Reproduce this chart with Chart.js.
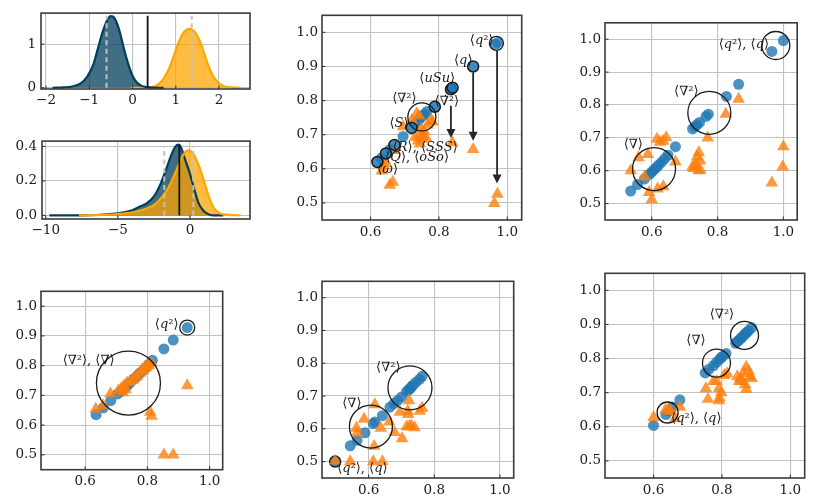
<!DOCTYPE html>
<html>
<head>
<meta charset="utf-8">
<script src="https://cdn.jsdelivr.net/npm/chart.js@4.4.1/dist/chart.umd.min.js"></script>
<style>
  html, body { margin: 0; padding: 0; background: #fff; }
  #fig { position: relative; width: 822px; height: 503px; overflow: hidden; background: #fff; }
  #fig canvas { position: absolute; }
</style>
</head>
<body>
<div id="fig"></div>
<script>
// ---- density panels (left column) ----
var d1BlueX = [-1.85, -1.6, -1.4, -1.2, -1.05, -0.9, -0.8, -0.7, -0.6, -0.5, -0.42, -0.3, -0.2, -0.1, 0.0, 0.1, 0.2, 0.3, 0.45, 0.72];
var d1BlueY = [0.0, 0.01, 0.03, 0.10, 0.25, 0.55, 0.90, 1.25, 1.52, 1.64, 1.60, 1.30, 0.90, 0.55, 0.28, 0.12, 0.05, 0.02, 0.005, 0.0];
var d1OrangeX = [-0.05, 0.2, 0.4, 0.55, 0.7, 0.85, 0.95, 1.05, 1.15, 1.25, 1.33, 1.42, 1.52, 1.62, 1.72, 1.82, 1.95, 2.1, 2.3, 2.5];
var d1OrangeY = [0.0, 0.0, 0.01, 0.05, 0.18, 0.45, 0.72, 1.0, 1.22, 1.33, 1.35, 1.30, 1.15, 0.90, 0.60, 0.35, 0.15, 0.04, 0.01, 0.0];
var d1Dashed = [-0.6, 1.37];
var d1Solid = 0.35;
var d1LineTop = 1.65;

var d2BlueX = [-9.75, -7.7, -6, -5, -4, -3.5, -3, -2.5, -2, -1.6, -1.3, -1.0, -0.8, -0.6, -0.4, -0.2, 0.0, 0.3, 0.6, 0.9, 1.2, 1.6, 2.3];
var d2BlueY = [0.0, 0.0, 0.005, 0.012, 0.03, 0.05, 0.07, 0.11, 0.19, 0.28, 0.35, 0.40, 0.41, 0.39, 0.34, 0.29, 0.24, 0.15, 0.07, 0.03, 0.01, 0.0, 0.0];
var d2OrangeX = [-7.7, -6, -5, -4, -3, -2.5, -2, -1.5, -1.0, -0.6, -0.3, -0.1, 0.1, 0.4, 0.7, 1.0, 1.3, 1.6, 2.0, 2.5, 3.5];
var d2OrangeY = [0.0, 0.003, 0.008, 0.018, 0.04, 0.06, 0.10, 0.16, 0.25, 0.33, 0.37, 0.378, 0.37, 0.33, 0.27, 0.19, 0.11, 0.05, 0.015, 0.004, 0.0];
var d2Dashed = [-1.78, 0.23];
var d2Solid = -0.74;
var d2DashTop = 0.40;
var d2SolidTop = 0.41;

// ---- scatter panels ----
var scatterTicksX = [0.6, 0.8, 1.0];
var scatterTicksY = [0.5, 0.6, 0.7, 0.8, 0.9, 1.0];

// top middle
var aBlueX = [0.632, 0.657, 0.695, 0.730, 0.738, 0.745, 0.752, 0.758, 0.765, 0.965, 0.972];
var aBlueY = [0.632, 0.657, 0.695, 0.732, 0.740, 0.748, 0.755, 0.760, 0.768, 0.965, 0.970];
var aEdgeX = [0.620, 0.645, 0.670, 0.720, 0.788, 0.835, 0.840, 0.900];
var aEdgeY = [0.620, 0.645, 0.670, 0.720, 0.782, 0.833, 0.838, 0.900];
var aOrangeX = [0.962, 0.971, 0.900, 0.839, 0.735, 0.742, 0.721, 0.695, 0.777, 0.781, 0.767, 0.749, 0.757, 0.744, 0.753, 0.730, 0.750, 0.763, 0.739, 0.744, 0.671, 0.646, 0.640, 0.633, 0.665, 0.656];
var aOrangeY = [0.499, 0.526, 0.657, 0.677, 0.762, 0.755, 0.743, 0.724, 0.742, 0.738, 0.729, 0.717, 0.710, 0.700, 0.696, 0.692, 0.687, 0.690, 0.682, 0.673, 0.654, 0.617, 0.608, 0.594, 0.561, 0.552];
var aRingX = [0.750, 0.968];
var aRingY = [0.752, 0.968];
var aRingR = [14, 7];
var aArrowX = [0.835, 0.900, 0.970];
var aArrowFrom = [0.785, 0.882, 0.945];
var aArrowTo = [0.690, 0.682, 0.557];
var aNotes = [['⟨q²⟩', 0.925, 0.975], ['⟨q⟩', 0.871, 0.916], ['⟨uSu⟩', 0.795, 0.863], ['⟨∇²⟩', 0.699, 0.805],
  ['⟨∇̇²⟩', 0.823, 0.796], ['⟨S⟩', 0.683, 0.733], ['⟨R⟩, ⟨SSS⟩', 0.760, 0.662], ['⟨Q⟩, ⟨oSo⟩', 0.736, 0.634], ['⟨ω⟩', 0.650, 0.598]];

// top right
var bBlueX = [1.0, 0.965, 0.864, 0.827, 0.772, 0.765, 0.745, 0.738, 0.732, 0.724, 0.672, 0.649, 0.639, 0.630, 0.621, 0.614, 0.607, 0.600, 0.593, 0.578, 0.557, 0.536];
var bBlueY = [0.996, 0.963, 0.863, 0.826, 0.772, 0.765, 0.747, 0.740, 0.735, 0.727, 0.673, 0.647, 0.636, 0.626, 0.617, 0.610, 0.603, 0.596, 0.589, 0.575, 0.558, 0.538];
var bOrangeX = [1.0, 0.998, 0.965, 0.864, 0.825, 0.770, 0.743, 0.738, 0.747, 0.733, 0.728, 0.742, 0.724, 0.735, 0.748, 0.616, 0.644, 0.625, 0.635, 0.672, 0.588, 0.560, 0.536, 0.578, 0.592, 0.600, 0.618, 0.635];
var bOrangeY = [0.673, 0.612, 0.563, 0.818, 0.772, 0.700, 0.655, 0.642, 0.630, 0.620, 0.607, 0.600, 0.612, 0.610, 0.602, 0.696, 0.701, 0.687, 0.690, 0.627, 0.650, 0.640, 0.600, 0.582, 0.534, 0.512, 0.545, 0.552];
var bRingX = [0.977, 0.775, 0.607];
var bRingY = [0.981, 0.776, 0.605];
var bRingR = [14, 21.5, 21.5];
var bNotes = [['⟨q²⟩, ⟨q⟩', 0.880, 0.984], ['⟨∇²⟩', 0.705, 0.840], ['⟨∇⟩', 0.544, 0.680]];

// bottom left
var cBlueX = [0.928, 0.883, 0.853, 0.816, 0.805, 0.795, 0.786, 0.776, 0.767, 0.758, 0.744, 0.735, 0.725, 0.715, 0.704, 0.682, 0.658, 0.635];
var cBlueY = [0.928, 0.886, 0.856, 0.818, 0.805, 0.793, 0.784, 0.775, 0.765, 0.756, 0.742, 0.733, 0.723, 0.713, 0.705, 0.682, 0.658, 0.635];
var cOrangeX = [0.634, 0.658, 0.681, 0.707, 0.716, 0.721, 0.725, 0.730, 0.735, 0.744, 0.753, 0.760, 0.767, 0.776, 0.782, 0.786, 0.790, 0.795, 0.800, 0.804, 0.813, 0.928, 0.809, 0.813, 0.853, 0.883];
var cOrangeY = [0.654, 0.666, 0.705, 0.716, 0.723, 0.709, 0.733, 0.719, 0.742, 0.747, 0.751, 0.760, 0.765, 0.775, 0.785, 0.784, 0.792, 0.793, 0.800, 0.800, 0.807, 0.733, 0.644, 0.630, 0.500, 0.500];
var cRingX = [0.739, 0.928];
var cRingY = [0.741, 0.928];
var cRingR = [32, 7.5];
var cNotes = [['⟨q²⟩', 0.862, 0.938], ['⟨∇²⟩, ⟨∇⟩', 0.611, 0.818]];

// bottom middle
var dBlueX = [0.544, 0.565, 0.589, 0.614, 0.619, 0.642, 0.665, 0.677, 0.688, 0.700, 0.716, 0.722, 0.726, 0.731, 0.735, 0.744, 0.755, 0.763];
var dBlueY = [0.548, 0.565, 0.588, 0.616, 0.621, 0.640, 0.666, 0.677, 0.686, 0.697, 0.714, 0.719, 0.723, 0.728, 0.733, 0.742, 0.751, 0.760];
var dEdgeX = [0.498];
var dEdgeY = [0.500];
var dOrangeX = [0.498, 0.544, 0.614, 0.642, 0.617, 0.619, 0.586, 0.563, 0.565, 0.637, 0.663, 0.679, 0.702, 0.695, 0.723, 0.719, 0.721, 0.716, 0.724, 0.730, 0.740, 0.756, 0.763];
var dOrangeY = [0.502, 0.500, 0.500, 0.500, 0.547, 0.674, 0.630, 0.602, 0.588, 0.602, 0.621, 0.589, 0.570, 0.651, 0.686, 0.654, 0.644, 0.607, 0.607, 0.610, 0.604, 0.654, 0.663];
var dRingX = [0.726, 0.607];
var dRingY = [0.725, 0.607];
var dRingR = [22, 21.5];
var dNotes = [['⟨∇²⟩', 0.660, 0.787], ['⟨∇⟩', 0.549, 0.677], ['⟨q²⟩, ⟨q⟩', 0.581, 0.478]];

// bottom right
var eBlueX = [0.600, 0.636, 0.645, 0.656, 0.677, 0.751, 0.761, 0.775, 0.784, 0.793, 0.798, 0.803, 0.812, 0.840, 0.845, 0.850, 0.855, 0.859, 0.864, 0.868, 0.873, 0.878, 0.887];
var eBlueY = [0.604, 0.636, 0.647, 0.658, 0.679, 0.758, 0.768, 0.779, 0.789, 0.798, 0.803, 0.807, 0.815, 0.845, 0.850, 0.854, 0.859, 0.863, 0.868, 0.873, 0.877, 0.882, 0.891];
var eOrangeX = [0.600, 0.635, 0.644, 0.650, 0.663, 0.677, 0.753, 0.759, 0.775, 0.784, 0.791, 0.798, 0.791, 0.793, 0.815, 0.807, 0.871, 0.878, 0.864, 0.882, 0.845, 0.850, 0.859, 0.868, 0.871, 0.887, 0.854];
var eOrangeY = [0.628, 0.649, 0.652, 0.645, 0.624, 0.658, 0.712, 0.681, 0.733, 0.733, 0.712, 0.700, 0.677, 0.684, 0.756, 0.751, 0.775, 0.763, 0.757, 0.747, 0.747, 0.733, 0.733, 0.724, 0.710, 0.742, 0.742];
var eRingX = [0.866, 0.784, 0.641];
var eRingY = [0.868, 0.787, 0.642];
var eRingR = [14, 14, 10.5];
var eNotes = [['⟨∇²⟩', 0.800, 0.928], ['⟨∇⟩', 0.724, 0.852], ['⟨q²⟩, ⟨q⟩', 0.725, 0.623]];

// ---- styling ----
var SERIF = '"DejaVu Serif", "Liberation Serif", serif';
var BLUE = 'rgba(31,119,180,0.8)';
var ORANGE = 'rgba(255,127,14,0.8)';
var INK = '#1a1a1a';
var NOTE_PX = 13;

function pts(xs, ys) {
  return xs.map(function(x, i) { return { x: x, y: ys[i] }; });
}

function vline(x, top, color, width, dash) {
  return { data: [{ x: x, y: 0 }, { x: x, y: top }], showLine: true, pointRadius: 0,
    borderColor: color, borderWidth: width, borderDash: dash || [], fill: false };
}

function curve(xs, ys, line, area) {
  return { data: pts(xs, ys), showLine: true, pointRadius: 0, borderColor: line, borderWidth: 2.2,
    backgroundColor: area, fill: 'origin', cubicInterpolationMode: 'monotone' };
}

function dots(xs, ys, style, r, color, edge) {
  return { data: pts(xs, ys), pointStyle: style, pointRadius: r, backgroundColor: color,
    borderColor: edge || color, borderWidth: edge ? 1.5 : 0 };
}

function rings(xs, ys, rs) {
  return { data: pts(xs, ys), pointStyle: 'circle', pointRadius: rs, backgroundColor: 'rgba(0,0,0,0)',
    borderColor: INK, borderWidth: 1.3 };
}

function minus(v) { return v < 0 ? '\u2212' + Math.abs(v) : String(v); }
function oneDec(v) { return v.toFixed(1); }

function axis(min, max, ticks, fmt, pad, isX) {
  return {
    type: 'linear', min: min, max: max,
    afterBuildTicks: function(s) { s.ticks = ticks.map(function(v) { return { value: v }; }); },
    afterFit: function(s) { if (isX) s.height = 25; else s.width = 45; },
    grid: { color: '#c2c2c2', lineWidth: 1.1, drawTicks: false },
    border: { display: false },
    ticks: { callback: fmt, padding: pad, color: INK, autoSkip: false, maxRotation: 0,
      font: { family: SERIF, size: 13.5 } }
  };
}

// letters italic, everything else upright, combining dot kept with its base
function drawMath(ctx, str, x, y) {
  var parts = [];
  for (var i = 0; i < str.length; i++) {
    var ch = str[i];
    if (ch === '\u0307' && parts.length) { parts[parts.length - 1].t += ch; continue; }
    parts.push({ t: ch, it: /[A-Za-z\u03c9]/.test(ch) });
  }
  var total = 0;
  parts.forEach(function(p) {
    ctx.font = (p.it ? 'italic ' : '') + NOTE_PX + 'px ' + SERIF;
    p.w = ctx.measureText(p.t).width;
    total += p.w;
  });
  var cx = x - total / 2;
  ctx.textBaseline = 'middle';
  ctx.textAlign = 'left';
  parts.forEach(function(p) {
    ctx.font = (p.it ? 'italic ' : '') + NOTE_PX + 'px ' + SERIF;
    ctx.fillText(p.t, cx, y);
    cx += p.w;
  });
}

function deco(notes, arrows) {
  return {
    id: 'deco',
    afterDatasetsDraw: function(chart) {
      var ctx = chart.ctx, xs = chart.scales.x, ys = chart.scales.y;
      ctx.save();
      ctx.strokeStyle = '#262626';
      ctx.fillStyle = '#262626';
      if (arrows) {
        arrows[0].forEach(function(ax, i) {
          var px = xs.getPixelForValue(ax);
          var p0 = ys.getPixelForValue(arrows[1][i]);
          var p1 = ys.getPixelForValue(arrows[2][i]);
          ctx.lineWidth = 1.8;
          ctx.beginPath(); ctx.moveTo(px, p0); ctx.lineTo(px, p1 - 8); ctx.stroke();
          ctx.beginPath(); ctx.moveTo(px - 4.5, p1 - 9); ctx.lineTo(px + 4.5, p1 - 9); ctx.lineTo(px, p1);
          ctx.closePath(); ctx.fill();
        });
      }
      ctx.fillStyle = INK;
      (notes || []).forEach(function(n) {
        drawMath(ctx, n[0], xs.getPixelForValue(n[1]), ys.getPixelForValue(n[2]));
      });
      ctx.restore();
    },
    afterDraw: function(chart) {
      var ctx = chart.ctx, a = chart.chartArea;
      ctx.save();
      ctx.strokeStyle = '#3a3a3a';
      ctx.lineWidth = 1.1;
      chart.scales.x.ticks.forEach(function(t) {
        var px = chart.scales.x.getPixelForValue(t.value);
        ctx.beginPath(); ctx.moveTo(px, a.bottom); ctx.lineTo(px, a.bottom - 3.5); ctx.stroke();
      });
      chart.scales.y.ticks.forEach(function(t) {
        var py = chart.scales.y.getPixelForValue(t.value);
        ctx.beginPath(); ctx.moveTo(a.left, py); ctx.lineTo(a.left + 3.5, py); ctx.stroke();
      });
      ctx.lineWidth = 1.6;
      ctx.strokeRect(a.left, a.top, a.right - a.left, a.bottom - a.top);
      ctx.restore();
    }
  };
}

function makeChart(box, datasets, xAxis, yAxis, plug) {
  var L = box[0], T = box[1], R = box[2], B = box[3];
  var w = R - L + 50, h = B - T + 30;
  var c = document.createElement('canvas');
  c.width = w; c.height = h;
  c.style.left = (L - 45) + 'px';
  c.style.top = (T - 5) + 'px';
  c.style.width = w + 'px';
  c.style.height = h + 'px';
  document.getElementById('fig').appendChild(c);
  return new Chart(c, {
    type: 'scatter',
    data: { datasets: datasets },
    options: {
      responsive: false, animation: false, events: [],
      layout: { padding: { left: 0, top: 5, right: 5, bottom: 0 } },
      plugins: { legend: { display: false }, tooltip: { enabled: false },
        filler: { drawTime: 'beforeDatasetsDraw' } },
      scales: { x: xAxis, y: yAxis }
    },
    plugins: [plug]
  });
}

var DARK = '#003f5c', DARK_FILL = 'rgba(0,63,92,0.75)';
var GOLD = '#ffa600', GOLD_FILL = 'rgba(255,166,0,0.75)';
var DASH = '#c2c2c2';
var DOT_R = 5.5, TRI_R = 7.3;

// top-left density
makeChart([41, 5, 250, 89], [
  vline(d1Solid, d1LineTop, '#111', 1.8),
  vline(d1Dashed[0], d1LineTop, DASH, 2, [5, 3.5]),
  vline(d1Dashed[1], d1LineTop, DASH, 2, [5, 3.5]),
  curve(d1BlueX, d1BlueY, DARK, DARK_FILL),
  curve(d1OrangeX, d1OrangeY, GOLD, GOLD_FILL)
], axis(-2.116, 2.717, [-2, -1, 0, 1, 2], minus, 3, true),
   axis(-0.027, 1.711, [0, 1], minus, 5, false), deco());

// second density
makeChart([42, 133, 250, 219], [
  vline(d2Solid, d2SolidTop, '#111', 1.8),
  vline(d2Dashed[0], d2DashTop, DASH, 2, [5, 3.5]),
  vline(d2Dashed[1], d2DashTop, DASH, 2, [5, 3.5]),
  curve(d2OrangeX, d2OrangeY, GOLD, GOLD_FILL),
  curve(d2BlueX, d2BlueY, DARK, DARK_FILL)
], axis(-10.26, 4.16, [-10, -5, 0], minus, 3, true),
   axis(-0.021, 0.431, [0, 0.2, 0.4], oneDec, 5, false), deco());

function sx() { return axis(0.458, 1.042, scatterTicksX, oneDec, 4, true); }
function sy() { return axis(0.45, 1.05, scatterTicksY, oneDec, 4, false); }

makeChart([322, 5, 532, 220], [
  rings(aRingX, aRingY, aRingR),
  dots(aEdgeX, aEdgeY, 'circle', DOT_R, 'rgba(31,119,180,0.85)', INK),
  dots(aOrangeX, aOrangeY, 'triangle', TRI_R, ORANGE),
  dots(aBlueX, aBlueY, 'circle', DOT_R, BLUE)
], sx(), sy(), deco(aNotes, [aArrowX, aArrowFrom, aArrowTo]));

makeChart([605, 5, 815, 220], [
  rings(bRingX, bRingY, bRingR),
  dots(bOrangeX, bOrangeY, 'triangle', TRI_R, ORANGE),
  dots(bBlueX, bBlueY, 'circle', DOT_R, BLUE)
], sx(), sy(), deco(bNotes));

makeChart([41, 263, 251, 478], [
  rings(cRingX, cRingY, cRingR),
  dots(cOrangeX, cOrangeY, 'triangle', TRI_R, ORANGE),
  dots(cBlueX, cBlueY, 'circle', DOT_R, BLUE)
], sx(), sy(), deco(cNotes));

makeChart([322, 263, 532, 478], [
  rings(dRingX, dRingY, dRingR),
  dots(dOrangeX, dOrangeY, 'triangle', TRI_R, ORANGE),
  dots(dEdgeX, dEdgeY, 'circle', DOT_R, 'rgba(31,119,180,0.85)', INK),
  dots(dBlueX, dBlueY, 'circle', DOT_R, BLUE)
], sx(), sy(), deco(dNotes));

makeChart([605, 263, 815, 478], [
  rings(eRingX, eRingY, eRingR),
  dots(eOrangeX, eOrangeY, 'triangle', TRI_R, ORANGE),
  dots(eBlueX, eBlueY, 'circle', DOT_R, BLUE)
], sx(), sy(), deco(eNotes));
</script>
</body>
</html>
